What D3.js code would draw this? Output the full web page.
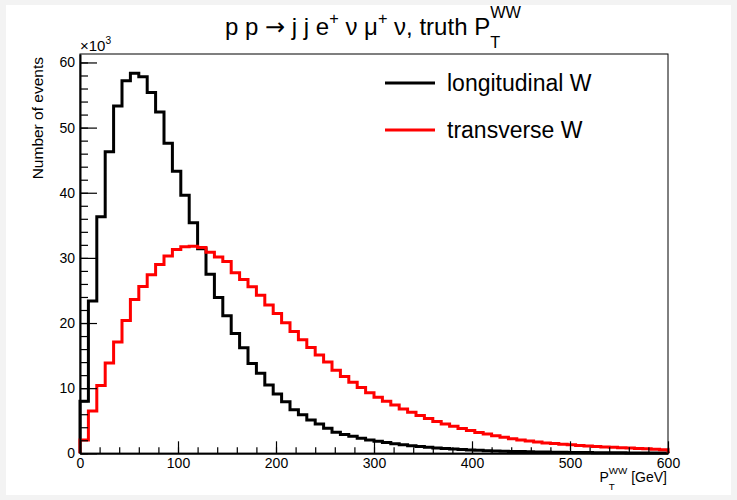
<!DOCTYPE html>
<html>
<head>
<meta charset="utf-8">
<script src="https://cdn.jsdelivr.net/npm/d3@7"></script>
<style>
  body { margin: 0; background: #f3f3f3; }
  svg { display: block; font-family: "Liberation Sans", Arial, sans-serif; }
  text { white-space: pre; }
</style>
</head>
<body>
<svg id="chart" width="737" height="500"></svg>
<script>
// histogram range, 70 bins over 0-600 GeV
const xRange = [0, 600];
const nBins = 70;

// bin contents in units of 10^3 events
const longitudinal = [
  8.0, 23.4, 36.3, 46.3, 53.3, 57.2, 58.35, 57.8, 55.4, 52.4,
  47.6, 43.3, 39.6, 35.4, 31.4, 27.5, 23.9, 21.1, 18.4, 16.2,
  13.8, 12.3, 10.5, 9.1, 7.9, 6.7, 5.9, 5.1, 4.5, 3.85,
  3.25, 2.9, 2.6, 2.3, 2.05, 1.85, 1.65, 1.45, 1.3, 1.15,
  1.03, 0.92, 0.82, 0.73, 0.65, 0.58, 0.52, 0.46, 0.41, 0.37,
  0.33, 0.29, 0.26, 0.23, 0.21, 0.19, 0.17, 0.15, 0.13, 0.12,
  0.11, 0.1, 0.09, 0.08, 0.07, 0.06, 0.06, 0.05, 0.05, 0.04
];
const transverse = [
  2.05, 6.5, 10.4, 13.85, 17.1, 20.4, 23.6, 25.6, 27.4, 29.0,
  30.3, 31.3, 31.7, 31.8, 31.6, 30.85, 30.15, 29.45, 27.7, 26.7,
  25.55, 24.25, 22.75, 21.45, 20.05, 18.7, 17.45, 16.25, 15.1, 14.0,
  12.75, 11.8, 10.9, 10.1, 9.3, 8.6, 8.0, 7.4, 6.8, 6.3,
  5.8, 5.35, 4.9, 4.5, 4.15, 3.8, 3.5, 3.2, 2.95, 2.7,
  2.45, 2.25, 2.05, 1.9, 1.75, 1.6, 1.5, 1.4, 1.3, 1.2,
  1.12, 1.05, 0.98, 0.92, 0.86, 0.8, 0.75, 0.7, 0.62, 0.55
];

const xMajor = [0, 100, 200, 300, 400, 500, 600];
const xMinor = d3.range(0, 601, 20);
const yMajor = [0, 10, 20, 30, 40, 50, 60];
const yMinor = d3.range(0, 61, 2);
const yMax = 61.3;

const series = [
  { name: 'longitudinal W', values: longitudinal, color: '#000000' },
  { name: 'transverse W', values: transverse, color: '#ff0000' }
];

const svg = d3.select('#chart');
svg.append('rect')
  .attr('x', 6).attr('y', 5).attr('width', 725).attr('height', 490)
  .attr('fill', '#ffffff');

const x = d3.scaleLinear().domain(xRange).range([80, 668]);
const y = d3.scaleLinear().domain([0, yMax]).range([453.3, 54]);
const binW = (xRange[1] - xRange[0]) / nBins;

// text with super/subscripts, measured piece by piece
function richText(parent, px, py, parts, size, anchor) {
  const g = parent.append('g');
  let cx = 0;
  parts.forEach((p) => {
    if (p.t !== undefined) {
      const el = g.append('text').attr('x', cx).attr('y', 0)
        .attr('font-size', size).text(p.t);
      if (p.font) el.attr('font-family', p.font);
      cx += el.node().getComputedTextLength();
    } else {
      let w = 0;
      const ss = size * (p.size || 0.68);
      if (p.sup) {
        const el = g.append('text').attr('x', cx).attr('y', -size * (p.up || 0.45))
          .attr('font-size', ss).text(p.sup);
        w = Math.max(w, el.node().getComputedTextLength());
      }
      if (p.sub) {
        const el = g.append('text').attr('x', cx).attr('y', size * (p.down || 0.6))
          .attr('font-size', ss).text(p.sub);
        w = Math.max(w, el.node().getComputedTextLength());
      }
      cx += w;
    }
  });
  const dx = anchor === 'middle' ? -cx / 2 : anchor === 'end' ? -cx : 0;
  g.attr('transform', `translate(${px + dx},${py})`);
  return g;
}

// histograms
const line = d3.line()
  .x((d) => x(d[0]))
  .y((d) => y(d[1]))
  .curve(d3.curveStepAfter);

series.forEach((s) => {
  const pts = [[xRange[0], 0]];
  s.values.forEach((v, i) => pts.push([xRange[0] + i * binW, v]));
  pts.push([xRange[1], s.values[s.values.length - 1]]);
  pts.push([xRange[1], 0]);
  svg.append('path')
    .attr('d', line(pts))
    .attr('fill', 'none')
    .attr('stroke', s.color)
    .attr('stroke-width', 3)
    .attr('stroke-linejoin', 'miter');
});

// frame
svg.append('rect')
  .attr('x', 80).attr('y', 54).attr('width', 588).attr('height', 399.3)
  .attr('fill', 'none').attr('stroke', '#000').attr('stroke-width', 1);

// x axis
const gx = svg.append('g').attr('transform', 'translate(0,453.3)');
gx.append('g')
  .call(d3.axisBottom(x).tickValues(xMinor).tickSize(-6).tickFormat(''))
  .call((g) => g.select('.domain').remove());
gx.append('g')
  .call(d3.axisBottom(x).tickValues(xMajor).tickSize(-12).tickSizeOuter(0).tickPadding(5)
    .tickFormat(d3.format('d')))
  .call((g) => g.select('.domain').attr('stroke-width', 2));
gx.selectAll('.tick line').attr('stroke', '#000').attr('stroke-width', 1.2);
gx.selectAll('.tick text').attr('font-size', 14).attr('fill', '#000')
  .attr('font-family', '"Liberation Sans", Arial, sans-serif');

// y axis
const gy = svg.append('g').attr('transform', 'translate(80,0)');
gy.append('g')
  .call(d3.axisLeft(y).tickValues(yMinor).tickSize(-8).tickFormat(''))
  .call((g) => g.select('.domain').remove());
gy.append('g')
  .call(d3.axisLeft(y).tickValues(yMajor).tickSize(-17).tickSizeOuter(0).tickPadding(5)
    .tickFormat(d3.format('d')))
  .call((g) => g.select('.domain').attr('stroke-width', 2));
gy.selectAll('.tick line').attr('stroke', '#000').attr('stroke-width', 1.2);
gy.selectAll('.tick text').attr('font-size', 14).attr('fill', '#000')
  .attr('font-family', '"Liberation Sans", Arial, sans-serif');

// exponent label
richText(svg, 80, 51, [{ t: '\u00d710' }, { sup: '3', up: 0.5 }], 15, 'start');

// axis titles
svg.append('text')
  .attr('transform', 'translate(43,57) rotate(-90)')
  .attr('text-anchor', 'end')
  .attr('font-size', 15.5)
  .text('Number of events');
richText(svg, 667, 482, [
  { t: 'P' }, { sup: 'WW', sub: 'T', up: 0.55, down: 0.6, size: 0.7 }, { t: ' [GeV]' }
], 14, 'end');

// title
richText(svg, 373, 35, [
  { t: 'p p ' }, { t: '\u2192', font: '"DejaVu Sans", sans-serif' },
  { t: ' j j e' }, { sup: '+' }, { t: ' \u03bd \u03bc' }, { sup: '+' },
  { t: ' \u03bd, truth P' }, { sup: 'WW', sub: 'T', up: 0.72, down: 0.55, size: 0.68 }
], 24, 'middle');

// legend
const leg = svg.append('g');
series.forEach((s, i) => {
  const ly = 83 + i * 47;
  leg.append('line')
    .attr('x1', 385).attr('x2', 435).attr('y1', ly).attr('y2', ly)
    .attr('stroke', s.color).attr('stroke-width', 3);
  leg.append('text')
    .attr('x', 447).attr('y', ly + 8)
    .attr('font-size', 23)
    .text(s.name);
});
</script>
</body>
</html>
